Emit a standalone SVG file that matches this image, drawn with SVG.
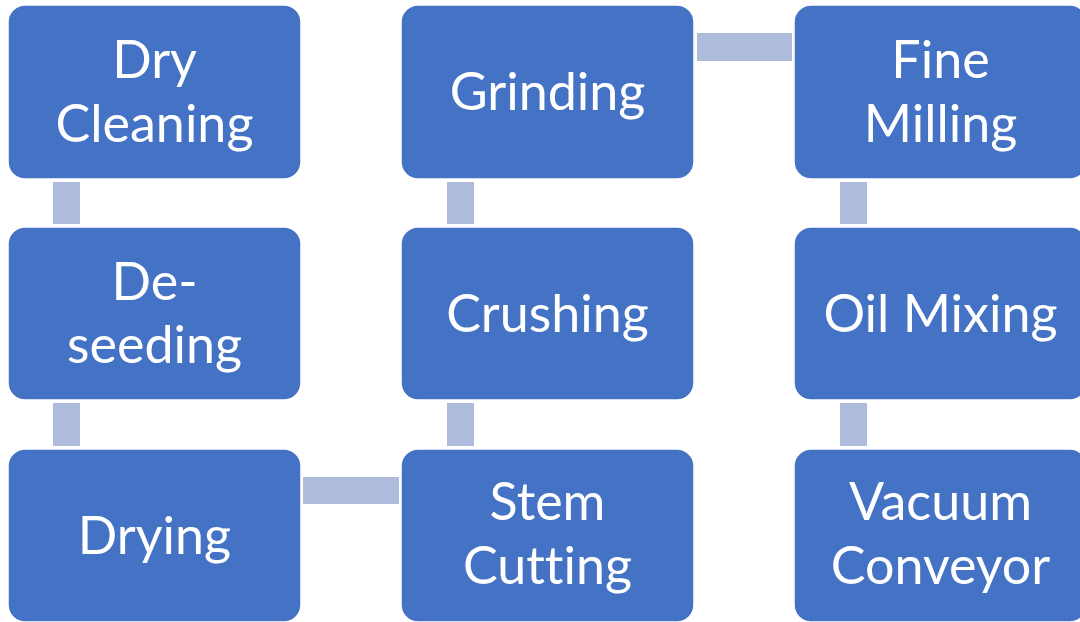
<svg xmlns="http://www.w3.org/2000/svg" width="1080" height="622" viewBox="0 0 1080 622">
  <style>
    .box { fill: #4472C4; stroke: #FFFFFF; stroke-width: 1.5; }
    .link { fill: #AFBBDD; }
    .label { font-family: Lato, "Open Sans", "Liberation Sans", sans-serif; font-size: 52px; fill: #FFFFFF; text-anchor: middle; font-variant-ligatures: none; }
  </style>
  <rect width="1080" height="622" fill="#FFFFFF"/>

  <!-- connectors -->
  <g id="connectors">
    <rect class="link" x="53" y="182" width="27" height="42"/>
    <rect class="link" x="53" y="403" width="27" height="43"/>
    <rect class="link" x="303" y="477" width="96" height="27"/>
    <rect class="link" x="447" y="403" width="27" height="43"/>
    <rect class="link" x="447" y="182" width="27" height="42"/>
    <rect class="link" x="697" y="33" width="95" height="28"/>
    <rect class="link" x="840" y="182" width="27" height="42"/>
    <rect class="link" x="840" y="403" width="27" height="43"/>
  </g>

  <!-- column 1 -->
  <g id="dry-cleaning">
    <rect class="box" x="8" y="5" width="293" height="174" rx="17"/>
    <text class="label" x="154.5" y="78">Dry</text>
    <text class="label" x="154.5" y="142">Cleaning</text>
  </g>
  <g id="de-seeding">
    <rect class="box" x="8" y="227" width="293" height="173" rx="17"/>
    <text class="label" x="154.5" y="300">De-</text>
    <text class="label" x="154.5" y="363">seeding</text>
  </g>
  <g id="drying">
    <rect class="box" x="8" y="449" width="293" height="173" rx="17"/>
    <text class="label" x="154.5" y="554">Drying</text>
  </g>

  <!-- column 2 -->
  <g id="stem-cutting">
    <rect class="box" x="401" y="449" width="293" height="173" rx="17"/>
    <text class="label" x="547.5" y="520">Stem</text>
    <text class="label" x="547.5" y="584">Cutting</text>
  </g>
  <g id="crushing">
    <rect class="box" x="401" y="227" width="293" height="173" rx="17"/>
    <text class="label" x="547.5" y="332">Crushing</text>
  </g>
  <g id="grinding">
    <rect class="box" x="401" y="5" width="293" height="174" rx="17"/>
    <text class="label" x="547.5" y="110">Grinding</text>
  </g>

  <!-- column 3 -->
  <g id="fine-milling">
    <rect class="box" x="794" y="5" width="293" height="174" rx="17"/>
    <text class="label" x="940.5" y="78">Fine</text>
    <text class="label" x="940.5" y="142">Milling</text>
  </g>
  <g id="oil-mixing">
    <rect class="box" x="794" y="227" width="293" height="173" rx="17"/>
    <text class="label" x="940.5" y="332">Oil Mixing</text>
  </g>
  <g id="vacuum-conveyor">
    <rect class="box" x="794" y="449" width="293" height="173" rx="17"/>
    <text class="label" x="940.5" y="520">Vacuum</text>
    <text class="label" x="940.5" y="584">Conveyor</text>
  </g>
</svg>
